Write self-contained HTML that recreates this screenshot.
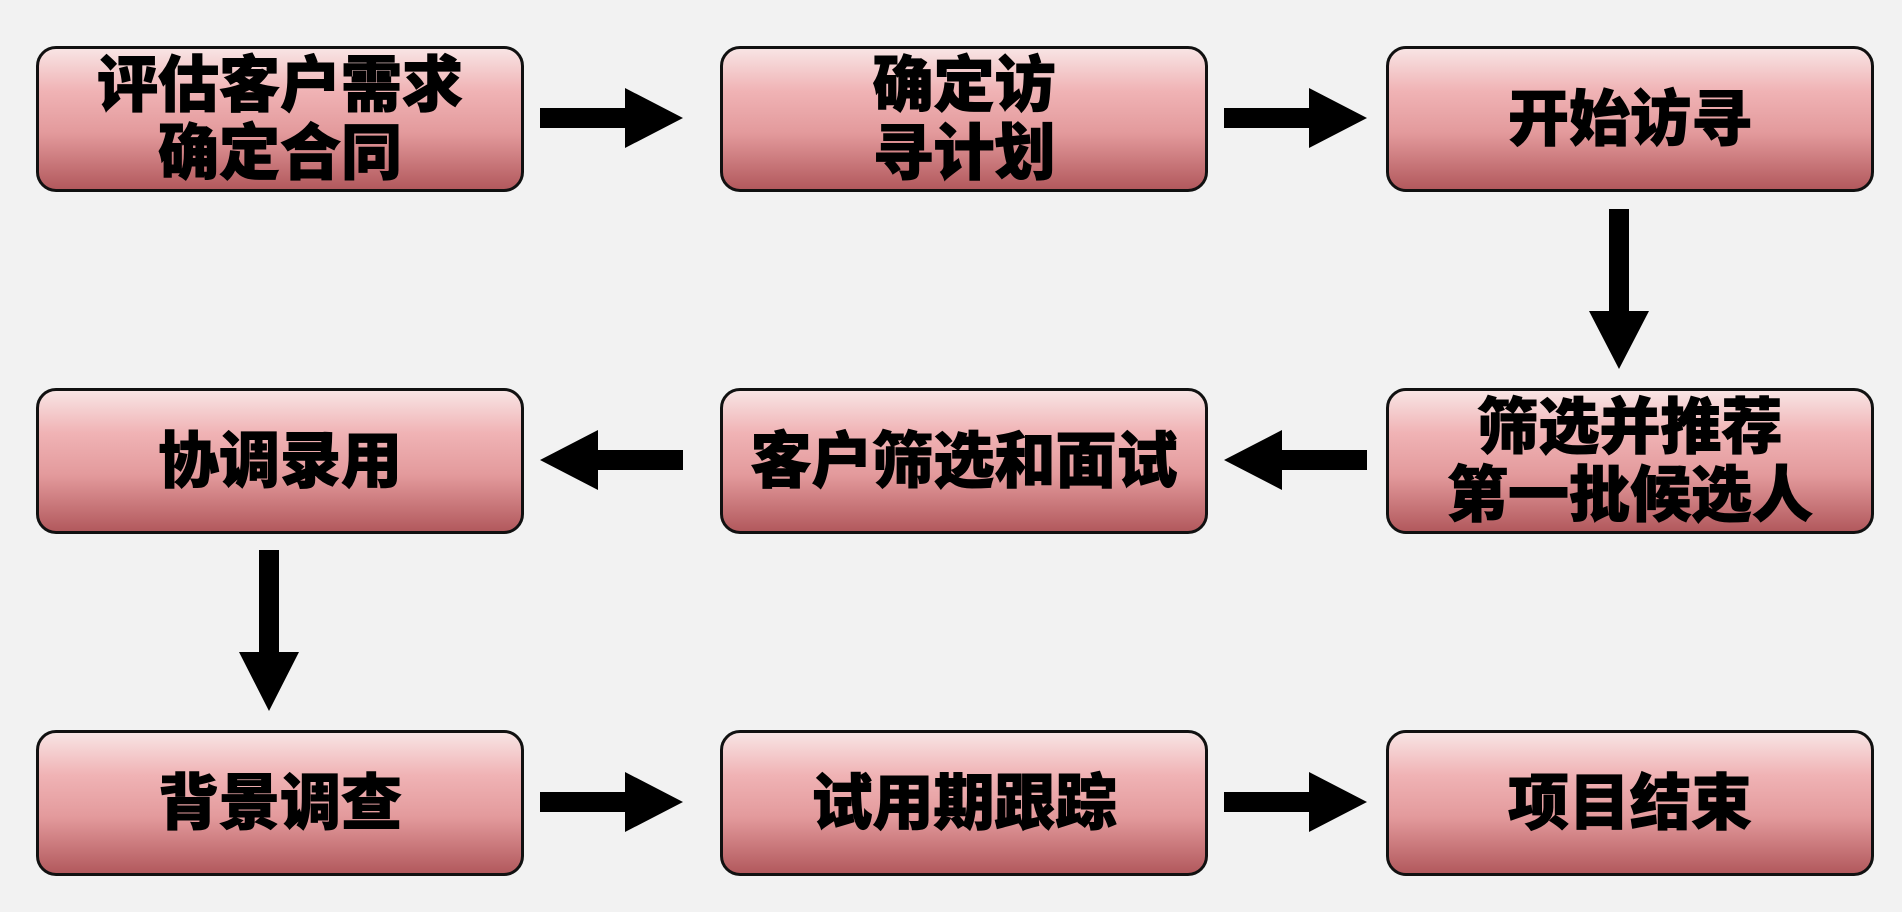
<!DOCTYPE html>
<html><head><meta charset="utf-8"><style>
html,body{margin:0;padding:0;background:#f2f2f2;}
body{width:1902px;height:912px;position:relative;overflow:hidden;font-family:"Liberation Sans","Noto Sans CJK SC",sans-serif;}
.b{position:absolute;width:482px;height:140px;border:3px solid #111;border-radius:20px;
background:linear-gradient(to bottom,#f8e4e4 0%,#f0b3b5 30%,#e39a9c 60%,#b2595d 100%);
display:flex;align-items:center;justify-content:center;text-align:center;
font-weight:900;font-size:61px;line-height:68px;color:#000;-webkit-text-stroke:1px #000;}
svg{position:absolute;left:0;top:0;}
</style></head><body>
<div class="b" style="left:36px;top:46px">评估客户需求<br>确定合同</div>
<div class="b" style="left:720px;top:46px">确定访<br>寻计划</div>
<div class="b" style="left:1386px;top:46px">开始访寻</div>
<div class="b" style="left:36px;top:388px">协调录用</div>
<div class="b" style="left:720px;top:388px">客户筛选和面试</div>
<div class="b" style="left:1386px;top:388px">筛选并推荐<br>第一批候选人</div>
<div class="b" style="left:36px;top:730px">背景调查</div>
<div class="b" style="left:720px;top:730px">试用期跟踪</div>
<div class="b" style="left:1386px;top:730px">项目结束</div>
<svg width="1902" height="912" fill="#000">
<polygon points="540,108 625,108 625,88 683,118 625,148 625,128 540,128"/>
<polygon points="1224,108 1309,108 1309,88 1367,118 1309,148 1309,128 1224,128"/>
<polygon points="683,450 598,450 598,430 540,460 598,490 598,470 683,470"/>
<polygon points="1367,450 1282,450 1282,430 1224,460 1282,490 1282,470 1367,470"/>
<polygon points="540,792 625,792 625,772 683,802 625,832 625,812 540,812"/>
<polygon points="1224,792 1309,792 1309,772 1367,802 1309,832 1309,812 1224,812"/>
<polygon points="1609,209 1629,209 1629,311 1649,311 1619,369 1589,311 1609,311"/>
<polygon points="259,550 279,550 279,652 299,652 269,711 239,652 259,652"/>
</svg>
</body></html>
